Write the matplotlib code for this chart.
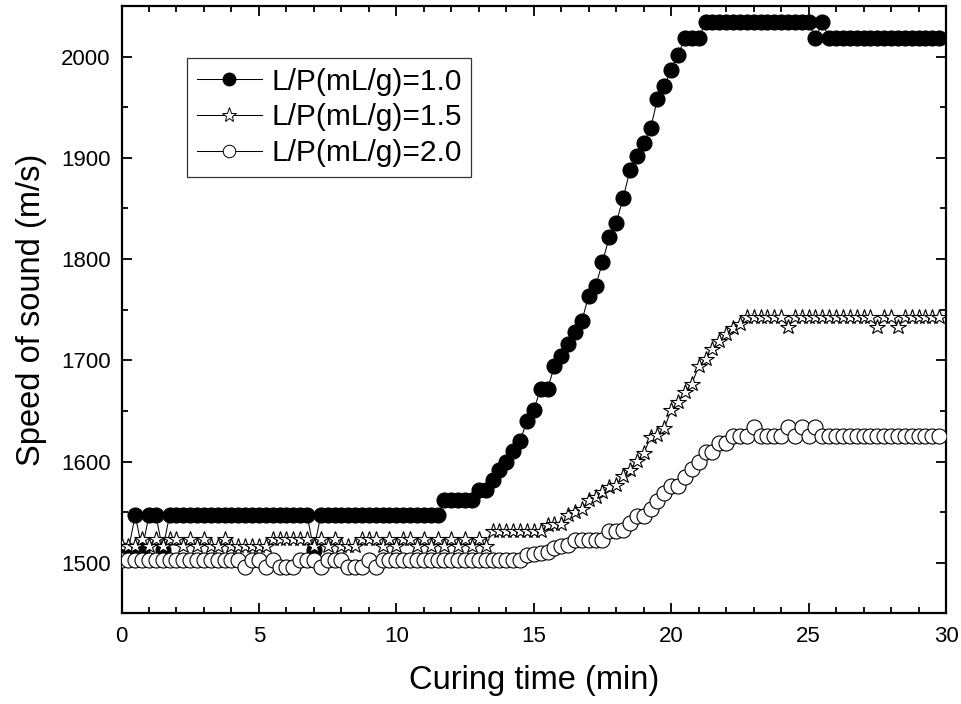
import numpy as np
import matplotlib
matplotlib.use("Agg")
import matplotlib.pyplot as plt
from matplotlib.lines import Line2D
from matplotlib.ticker import MultipleLocator

plt.rcParams['font.family'] = ['Liberation Sans', 'DejaVu Sans']

# sampling grid: one reading every 0.25 min
time_min = np.arange(120) * 0.25

labels = ["L/P(mL/g)=1.0", "L/P(mL/g)=1.5", "L/P(mL/g)=2.0"]

speed_lp10 = [
    1513, 1513, 1547, 1513, 1547, 1547, 1513, 1547, 1547, 1547,
    1547, 1547, 1547, 1547, 1547, 1547, 1547, 1547, 1547, 1547,
    1547, 1547, 1547, 1547, 1547, 1547, 1547, 1547, 1513, 1547,
    1547, 1547, 1547, 1547, 1547, 1547, 1547, 1547, 1547, 1547,
    1547, 1547, 1547, 1547, 1547, 1547, 1547, 1562, 1562, 1562,
    1562, 1562, 1572, 1572, 1582, 1592, 1600, 1610, 1620, 1640,
    1651, 1672, 1672, 1694, 1704, 1716, 1728, 1739, 1764, 1773,
    1797, 1822, 1836, 1860, 1888, 1902, 1915, 1929, 1958, 1971,
    1987, 2002, 2018, 2018, 2018, 2034, 2034, 2034, 2034, 2034,
    2034, 2034, 2034, 2034, 2034, 2034, 2034, 2034, 2034, 2034,
    2034, 2018, 2034, 2018, 2018, 2018, 2018, 2018, 2018, 2018,
    2018, 2018, 2018, 2018, 2018, 2018, 2018, 2018, 2018, 2018,
]

speed_lp15 = [
    1517, 1517, 1517, 1524, 1517, 1524, 1517, 1524, 1524, 1517,
    1524, 1517, 1524, 1517, 1517, 1524, 1517, 1517, 1517, 1517,
    1517, 1517, 1524, 1524, 1524, 1524, 1524, 1524, 1517, 1524,
    1517, 1524, 1517, 1517, 1517, 1524, 1524, 1524, 1517, 1524,
    1517, 1524, 1524, 1517, 1524, 1517, 1524, 1517, 1524, 1517,
    1524, 1517, 1524, 1517, 1531, 1531, 1531, 1531, 1531, 1531,
    1531, 1531, 1537, 1538, 1538, 1547, 1550, 1553, 1562, 1565,
    1570, 1575, 1577, 1586, 1592, 1601, 1608, 1624, 1626, 1633,
    1651, 1659, 1669, 1677, 1694, 1701, 1711, 1719, 1726, 1732,
    1736, 1743, 1743, 1743, 1743, 1743, 1743, 1733, 1743, 1743,
    1743, 1743, 1743, 1743, 1743, 1743, 1743, 1743, 1743, 1743,
    1733, 1743, 1743, 1733, 1743, 1743, 1743, 1743, 1743, 1743,
]

speed_lp20 = [
    1503, 1503, 1503, 1503, 1503, 1503, 1503, 1503, 1503, 1503,
    1503, 1503, 1503, 1503, 1503, 1503, 1503, 1503, 1496, 1503,
    1503, 1496, 1503, 1496, 1496, 1496, 1503, 1503, 1503, 1496,
    1503, 1503, 1503, 1496, 1496, 1496, 1503, 1496, 1503, 1503,
    1503, 1503, 1503, 1503, 1503, 1503, 1503, 1503, 1503, 1503,
    1503, 1503, 1503, 1503, 1503, 1503, 1503, 1503, 1503, 1508,
    1509, 1510, 1511, 1515, 1517, 1518, 1523, 1523, 1523, 1523,
    1523, 1531, 1531, 1532, 1539, 1546, 1546, 1553, 1561, 1569,
    1576, 1576, 1585, 1593, 1600, 1609, 1609, 1618, 1618, 1625,
    1625, 1625, 1634, 1625, 1625, 1625, 1625, 1634, 1625, 1634,
    1625, 1634, 1625, 1625, 1625, 1625, 1625, 1625, 1625, 1625,
    1625, 1625, 1625, 1625, 1625, 1625, 1625, 1625, 1625, 1625,
]

fig = plt.figure(figsize=(9.62, 7.04), dpi=100)
ax = fig.add_axes([0.1263, 0.1286, 0.8571, 0.8629])

line_kw = dict(color='black', lw=0.75, mec='black', mew=0.8)
ax.plot(time_min, speed_lp10, marker='o', ms=10.8, mfc='black', zorder=3, **line_kw)
ax.plot(time_min, speed_lp15, marker='*', ms=11.5, mfc='white', zorder=4, **line_kw)
ax.plot(time_min, speed_lp20, marker='o', ms=10.8, mfc='white', zorder=5, **line_kw)

ax.set_xlim(0, 30)
ax.set_ylim(1450, 2050)
ax.xaxis.set_major_locator(MultipleLocator(5))
ax.xaxis.set_minor_locator(MultipleLocator(1))
ax.yaxis.set_minor_locator(MultipleLocator(50))
ax.set_yticks([1500, 1600, 1700, 1800, 1900, 2000])

ax.tick_params(which='both', direction='in', top=True, right=True, width=1.3,
               labelsize=16)
ax.tick_params(which='major', length=7)
ax.tick_params(which='minor', length=4)
ax.tick_params(axis='x', pad=9)
ax.tick_params(axis='y', pad=8)
for sp in ax.spines.values():
    sp.set_linewidth(1.6)

ax.set_xlabel("Curing time (min)", fontsize=23.5, labelpad=13)
ax.set_ylabel("Speed of sound (m/s)", fontsize=23.5, labelpad=10)

handles = [
    Line2D([], [], color='black', lw=0.75, marker='o', ms=9, mfc='black', mec='black'),
    Line2D([], [], color='black', lw=0.75, marker='*', ms=11, mfc='white', mec='black', mew=0.7),
    Line2D([], [], color='black', lw=0.75, marker='o', ms=9, mfc='white', mec='black', mew=0.7),
]
leg = ax.legend(handles, labels, loc='upper left', bbox_to_anchor=(0.0794, 0.9144),
                fontsize=21.5, frameon=True, fancybox=False, edgecolor='black',
                handlelength=2.2, handletextpad=0.3, labelspacing=0.26,
                borderpad=0.32, borderaxespad=0)
leg.get_frame().set_linewidth(0.9)
leg.set_zorder(10)

fig.savefig("out.png", dpi=100)
